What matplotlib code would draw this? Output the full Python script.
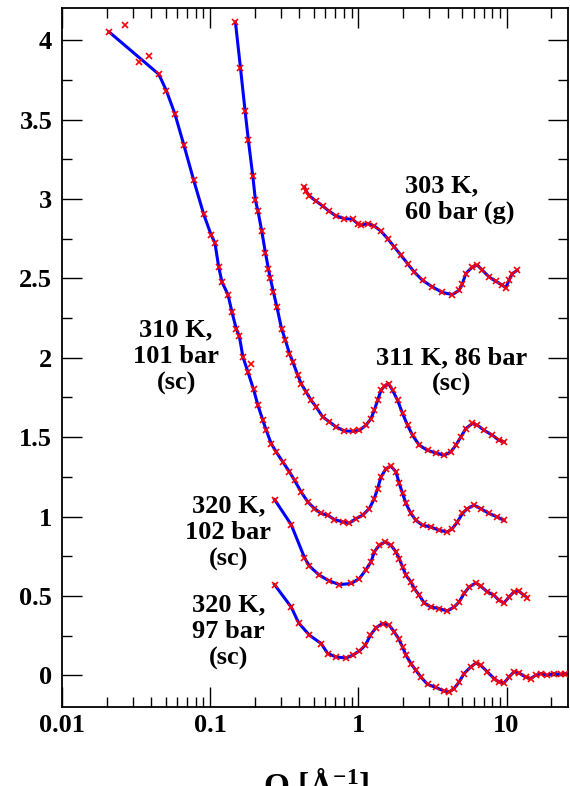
import numpy as np
from matplotlib import pyplot as plt
from matplotlib import ticker


plt.rcParams['font.family'] = 'Liberation Serif'
plt.rcParams['font.weight'] = 'bold'
plt.rcParams['mathtext.fontset'] = 'custom'
plt.rcParams['mathtext.rm'] = 'Liberation Serif:bold'
plt.rcParams['mathtext.default'] = 'rm'


# 310 K, 101 bar (sc)  -- offset +1.0
q_310 = [0.0208, 0.0450, 0.0507, 0.0577, 0.0663, 0.0774, 0.0904, 0.1013, 0.1077, 0.1141,
         0.1201, 0.1318, 0.1402, 0.1501, 0.1573, 0.1663, 0.1797, 0.1963, 0.2099, 0.2268,
         0.2390, 0.2583, 0.279, 0.309, 0.343, 0.371, 0.411, 0.4556, 0.5054, 0.561,
         0.621, 0.689, 0.784, 0.870, 0.965, 1.069, 1.186, 1.281, 1.349, 1.422,
         1.537, 1.661, 1.794, 1.889, 1.987, 2.096, 2.264, 2.446, 2.710, 3.088,
         3.512, 3.995, 4.315, 4.66, 5.04, 5.45, 6.04, 6.70, 7.625, 8.67, 9.62]
s_310 = [4.052, 3.786, 3.681, 3.538, 3.343, 3.118, 2.904, 2.776, 2.723, 2.572,
         2.477, 2.398, 2.289, 2.180, 2.135, 2.005, 1.911, 1.800, 1.701, 1.606,
         1.543, 1.459, 1.407, 1.344, 1.281, 1.228, 1.155, 1.092, 1.050, 1.019,
         1.008, 0.981, 0.966, 0.959, 0.987, 1.008, 1.050, 1.113, 1.176, 1.249,
         1.302, 1.317, 1.281, 1.208, 1.145, 1.082, 1.019, 0.976, 0.945, 0.934,
         0.913, 0.903, 0.924, 0.966, 1.019, 1.050, 1.071, 1.050, 1.019, 0.997, 0.976]
# scattered points off the fit
q_310_out = [0.0266, 0.0330, 0.0387, 0.1894]
s_310_out = [4.094, 3.863, 3.901, 1.963]

# 311 K, 86 bar (sc)  -- offset +1.5
q_311 = [0.148, 0.160, 0.172, 0.181, 0.194, 0.202, 0.210, 0.223, 0.236, 0.247,
         0.254, 0.267, 0.282, 0.303, 0.322, 0.343, 0.361, 0.390, 0.411, 0.444,
         0.480, 0.519, 0.575, 0.638, 0.708, 0.805, 0.915, 1.016, 1.127, 1.218,
         1.281, 1.349, 1.422, 1.497, 1.600, 1.702, 1.839, 1.987, 2.148, 2.321,
         2.576, 2.929, 3.336, 3.79, 4.21, 4.55, 4.92, 5.31, 5.885, 6.36,
         7.06, 8.02, 8.90, 9.62]
s_311 = [4.115, 3.828, 3.555, 3.370, 3.143, 2.992, 2.925, 2.797, 2.660, 2.562,
         2.505, 2.415, 2.320, 2.184, 2.110, 2.026, 1.974, 1.890, 1.837, 1.785,
         1.732, 1.690, 1.627, 1.596, 1.564, 1.539, 1.537, 1.543, 1.575, 1.617,
         1.669, 1.732, 1.795, 1.820, 1.837, 1.795, 1.732, 1.649, 1.575, 1.512,
         1.449, 1.417, 1.400, 1.386, 1.407, 1.449, 1.501, 1.554, 1.586, 1.575,
         1.543, 1.512, 1.480, 1.470]

# 320 K, 102 bar (sc)  -- offset +0.5
q_320a = [0.2718, 0.352, 0.433, 0.468, 0.546, 0.638, 0.745, 0.893, 1.016, 1.127,
          1.218, 1.281, 1.385, 1.520, 1.661, 1.794, 1.889, 1.987, 2.096, 2.264,
          2.384, 2.576, 2.782, 3.088, 3.512, 3.995, 4.43, 4.79, 5.17, 5.59,
          6.20, 6.70, 7.43, 8.24, 8.90, 9.62, 10.39, 11.23, 12.14, 13.12, 13.80]
s_320a = [1.107, 0.949, 0.741, 0.687, 0.630, 0.594, 0.571, 0.578, 0.609, 0.666,
          0.714, 0.777, 0.819, 0.840, 0.819, 0.777, 0.735, 0.682, 0.630, 0.588,
          0.546, 0.504, 0.455, 0.430, 0.420, 0.405, 0.430, 0.462, 0.515, 0.556,
          0.581, 0.561, 0.525, 0.504, 0.472, 0.455, 0.493, 0.525, 0.529, 0.504, 0.489]

# 320 K, 97 bar (sc)  -- no offset
q_320b = [0.2718, 0.352, 0.396, 0.468, 0.561, 0.621, 0.708, 0.827, 0.915, 1.016,
          1.115, 1.205, 1.316, 1.457, 1.618, 1.747, 1.868, 1.987, 2.096, 2.264,
          2.446, 2.644, 2.929, 3.336, 3.79, 4.10, 4.43, 4.79, 5.17, 5.74,
          6.20, 6.70, 7.43, 8.24, 8.90, 9.62, 10.39, 11.23, 12.14, 13.47,
          14.55, 15.73, 17.0, 18.83, 20.89, 23.17, 25.0]
s_320b = [0.571, 0.430, 0.329, 0.252, 0.200, 0.137, 0.115, 0.109, 0.126, 0.153,
          0.189, 0.252, 0.300, 0.326, 0.315, 0.273, 0.231, 0.178, 0.126, 0.074,
          0.031, -0.011, -0.057, -0.077, -0.099, -0.105, -0.084, -0.042, 0.011, 0.052,
          0.077, 0.063, 0.021, -0.021, -0.042, -0.049, -0.011, 0.021, 0.014, -0.011,
          -0.021, 0.0, 0.011, 0.0, 0.011, 0.006, 0.011]

# 303 K, 60 bar (g)  -- offset +2.5
q_303 = [0.433, 0.444, 0.468, 0.519, 0.575, 0.631, 0.708, 0.805, 0.915, 0.989,
         1.043, 1.155, 1.281, 1.422, 1.575, 1.747, 1.939, 2.148, 2.384, 2.710,
         3.164, 3.696, 4.315, 4.79, 5.04, 5.31, 5.885, 6.36, 6.87, 7.625,
         8.46, 9.37, 9.876, 10.39, 10.94, 11.82]
s_303 = [3.076, 3.049, 3.019, 2.986, 2.956, 2.925, 2.893, 2.877, 2.872, 2.845,
         2.835, 2.845, 2.830, 2.797, 2.751, 2.698, 2.646, 2.593, 2.540, 2.488,
         2.446, 2.411, 2.398, 2.425, 2.467, 2.530, 2.572, 2.583, 2.551, 2.509,
         2.482, 2.457, 2.440, 2.488, 2.530, 2.551]

yticks = [0, 0.5, 1, 1.5, 2, 2.5, 3, 3.5, 4]


fig = plt.figure(figsize=(5.70, 7.86), dpi=100)
ax = fig.add_axes([0.1088, 0.1005, 0.8877, 0.8887])

curves = [(q_310, s_310), (q_311, s_311), (q_320a, s_320a), (q_320b, s_320b), (q_303, s_303)]
for q, s in curves:
    ax.plot(q, s, color='#0000ff', lw=2.2, zorder=2)
    ax.plot(q, s, 'x', color='#ff0000', ms=5, mew=1.2, zorder=3)
ax.plot(q_310_out, s_310_out, 'x', color='#ff0000', ms=5, mew=1.2, zorder=3)

ax.set_xscale('log')
ax.set_xlim(0.01, 26)
ax.set_ylim(-0.2, 4.2)
ax.set_yticks(yticks)
ax.yaxis.set_major_formatter(ticker.FormatStrFormatter('%g'))
ax.yaxis.set_minor_locator(ticker.MultipleLocator(0.25))
ax.xaxis.set_major_formatter(ticker.FuncFormatter(lambda v, p: '%g' % v))
ax.xaxis.set_minor_locator(ticker.LogLocator(base=10, subs=np.arange(2, 10)))
ax.xaxis.set_minor_formatter(ticker.NullFormatter())

ax.tick_params(which='both', direction='in', top=True, right=True, labelsize=19, width=1.0)
ax.tick_params(which='major', length=14.5)
ax.tick_params(which='minor', length=7.2)
ax.tick_params(axis='y', pad=7)
ax.tick_params(axis='x', pad=5)
for sp in ax.spines.values():
    sp.set_linewidth(1.3)

txt = dict(fontsize=19, fontweight='bold', linespacing=1.2)
ax.text(2.08, 3.0, '303 K,\n60 bar (g)', ha='left', va='center', **txt)
ax.text(4.25, 1.915, '311 K, 86 bar\n(sc)', ha='center', va='center', multialignment='center', **txt)
ax.text(0.0589, 2.006, '310 K,\n101 bar\n(sc)', ha='center', va='center', multialignment='center', **txt)
ax.text(0.1325, 0.90, '320 K,\n102 bar\n(sc)', ha='center', va='center', multialignment='center', **txt)
ax.text(0.1325, 0.277, '320 K,\n97 bar\n(sc)', ha='center', va='center', multialignment='center', **txt)

# axis label, cut by the bottom edge as in the original
fig.text(316 / 570, -0.0125, r'Q [Å$^{-1}$]', ha='center', va='baseline', fontsize=24, fontweight='bold')

fig.savefig('out.png', dpi=100)
